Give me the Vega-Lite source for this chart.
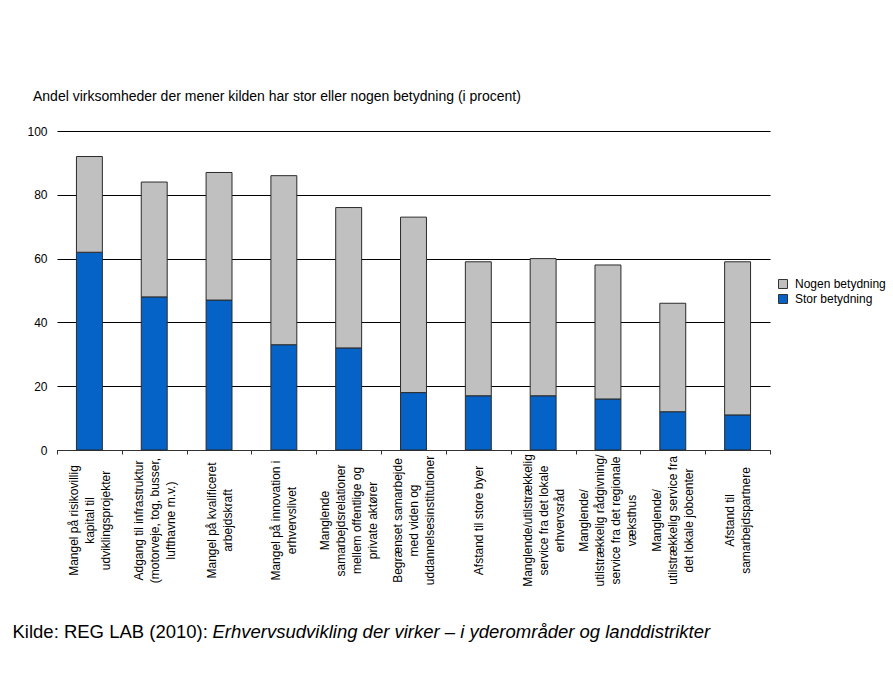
{
  "$schema": "https://vega.github.io/schema/vega-lite/v6.json",
  "width": 713,
  "height": 319,
  "autosize": {"type": "none"},
  "padding": {"left": 57, "top": 131, "right": 123, "bottom": 229},
  "background": "white",
  "config": {
    "font": "Liberation Sans",
    "view": {"stroke": null}
  },
  "title": {
    "text": "Andel virksomheder der mener kilden har stor eller nogen betydning (i procent)",
    "anchor": "start",
    "frame": "group",
    "orient": "top",
    "dx": -24,
    "offset": 10,
    "fontSize": 14,
    "fontWeight": "normal",
    "color": "#000000",
    "baseline": "alphabetic"
  },
  "data": {
    "values": [
      {"kategori": "Mangel på risikovillig|kapital til|udviklingsprojekter", "type": "Stor betydning", "andel": 62},
      {"kategori": "Mangel på risikovillig|kapital til|udviklingsprojekter", "type": "Nogen betydning", "andel": 30},
      {"kategori": "Adgang til infrastruktur|(motorveje, tog, busser,|lufthavne m.v.)", "type": "Stor betydning", "andel": 48},
      {"kategori": "Adgang til infrastruktur|(motorveje, tog, busser,|lufthavne m.v.)", "type": "Nogen betydning", "andel": 36},
      {"kategori": "Mangel på kvalificeret|arbejdskraft", "type": "Stor betydning", "andel": 47},
      {"kategori": "Mangel på kvalificeret|arbejdskraft", "type": "Nogen betydning", "andel": 40},
      {"kategori": "Mangel på innovation i|erhvervslivet", "type": "Stor betydning", "andel": 33},
      {"kategori": "Mangel på innovation i|erhvervslivet", "type": "Nogen betydning", "andel": 53},
      {"kategori": "Manglende|samarbejdsrelationer|mellem offentlige og|private aktører", "type": "Stor betydning", "andel": 32},
      {"kategori": "Manglende|samarbejdsrelationer|mellem offentlige og|private aktører", "type": "Nogen betydning", "andel": 44},
      {"kategori": "Begrænset samarbejde|med viden og|uddannelsesinstitutioner", "type": "Stor betydning", "andel": 18},
      {"kategori": "Begrænset samarbejde|med viden og|uddannelsesinstitutioner", "type": "Nogen betydning", "andel": 55},
      {"kategori": "Afstand til store byer", "type": "Stor betydning", "andel": 17},
      {"kategori": "Afstand til store byer", "type": "Nogen betydning", "andel": 42},
      {"kategori": "Manglende/utilstrækkelig|service fra det lokale|erhvervsråd", "type": "Stor betydning", "andel": 17},
      {"kategori": "Manglende/utilstrækkelig|service fra det lokale|erhvervsråd", "type": "Nogen betydning", "andel": 43},
      {"kategori": "Manglende/|utilstrækkelig rådgivning/|service fra det regionale|væksthus", "type": "Stor betydning", "andel": 16},
      {"kategori": "Manglende/|utilstrækkelig rådgivning/|service fra det regionale|væksthus", "type": "Nogen betydning", "andel": 42},
      {"kategori": "Manglende/|utilstrækkelig service fra|det lokale jobcenter", "type": "Stor betydning", "andel": 12},
      {"kategori": "Manglende/|utilstrækkelig service fra|det lokale jobcenter", "type": "Nogen betydning", "andel": 34},
      {"kategori": "Afstand til|samarbejdspartnere", "type": "Stor betydning", "andel": 11},
      {"kategori": "Afstand til|samarbejdspartnere", "type": "Nogen betydning", "andel": 48}
    ]
  },
  "mark": {"type": "bar", "stroke": "#2b2b2b", "strokeWidth": 1, "width": {"band": 0.4}},
  "encoding": {
    "x": {
      "field": "kategori",
      "type": "nominal",
      "sort": null,
      "scale": {"paddingInner": 0, "paddingOuter": 0},
      "axis": {
        "title": "Kilde: REG LAB (2010):",
        "titleX": -45,
        "titleY": 187,
        "titleAlign": "left",
        "titleAnchor": "start",
        "titleBaseline": "alphabetic",
        "titleFontSize": 18.5,
        "titleFontWeight": "normal",
        "titleColor": "#000000",
        "labelExpr": "split(datum.label, '|')",
        "labelAngle": 270,
        "labelAlign": "center",
        "labelBaseline": "middle",
        "labelPadding": 66,
        "labelFontSize": 12,
        "labelLineHeight": 16,
        "labelColor": "#000000",
        "labelOverlap": false,
        "labelLimit": 300,
        "labelOffset": {
          "condition": [
            {"test": "length(split(datum.value, '|')) == 2", "value": -8},
            {"test": "length(split(datum.value, '|')) == 3", "value": -16},
            {"test": "length(split(datum.value, '|')) == 4", "value": -24}
          ],
          "value": 0
        },
        "tickBand": "extent",
        "tickSize": 4,
        "tickColor": "#333333",
        "domainColor": "#333333",
        "grid": false
      }
    },
    "y": {
      "field": "andel",
      "type": "quantitative",
      "stack": "zero",
      "scale": {"domain": [0, 100], "nice": false},
      "axis": {
        "values": [0, 20, 40, 60, 80, 100],
        "grid": true,
        "gridColor": "#000000",
        "gridWidth": 1,
        "domain": false,
        "ticks": false,
        "labelPadding": 10,
        "labelFontSize": 12,
        "labelColor": "#000000",
        "title": "Erhvervsudvikling der virker – i yderområder og landdistrikter",
        "titleAngle": 0,
        "titleX": 155,
        "titleY": 506,
        "titleAlign": "left",
        "titleBaseline": "alphabetic",
        "titleFontStyle": "italic",
        "titleFontSize": 18.5,
        "titleFontWeight": "normal",
        "titleColor": "#000000"
      }
    },
    "color": {
      "field": "type",
      "type": "nominal",
      "scale": {"domain": ["Nogen betydning", "Stor betydning"], "range": ["#c0c0c0", "#0563c8"]},
      "legend": {
        "title": null,
        "orient": "none",
        "legendX": 720,
        "legendY": 147,
        "padding": 0,
        "symbolType": "square",
        "symbolSize": 81,
        "symbolStrokeColor": "#333333",
        "symbolStrokeWidth": 1,
        "labelFontSize": 12,
        "labelColor": "#000000",
        "labelOffset": 6,
        "rowPadding": 1
      }
    },
    "order": {"field": "type", "sort": "descending"}
  }
}
